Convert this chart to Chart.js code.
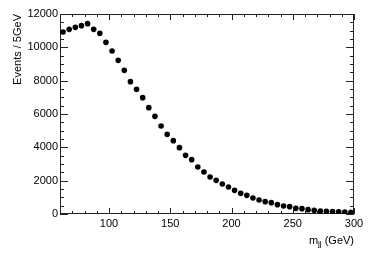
<!DOCTYPE html>
<html>
<head>
<meta charset="utf-8">
<script src="https://cdn.jsdelivr.net/npm/chart.js@4/dist/chart.umd.min.js"></script>
<style>
  html, body { margin: 0; padding: 0; background: #fff; }
  #wrap { width: 374px; height: 255px; }
</style>
</head>
<body>
<div id="wrap"><canvas id="graficoMjj" width="374" height="255"></canvas></div>
<script>
// bin centres (GeV) and events per 5 GeV bin
const centrosBins = [62.5, 67.5, 72.5, 77.5, 82.5, 87.5, 92.5, 97.5, 102.5, 107.5, 112.5, 117.5,
  122.5, 127.5, 132.5, 137.5, 142.5, 147.5, 152.5, 157.5, 162.5, 167.5, 172.5, 177.5,
  182.5, 187.5, 192.5, 197.5, 202.5, 207.5, 212.5, 217.5, 222.5, 227.5, 232.5, 237.5,
  242.5, 247.5, 252.5, 257.5, 262.5, 267.5, 272.5, 277.5, 282.5, 287.5, 292.5, 297.5]
const eventos = [10920, 11080, 11200, 11300, 11420, 11080, 10840, 10300, 9780, 9220, 8620, 7940,
  7480, 6980, 6380, 5860, 5280, 4780, 4400, 3980, 3520, 3260, 2820, 2520,
  2220, 2020, 1800, 1620, 1420, 1240, 1120, 960, 840, 740, 680, 560,
  480, 440, 340, 320, 260, 220, 180, 160, 140, 130, 120, 100]

const ticksX = [100, 150, 200, 250, 300]
const ticksY = [0, 2000, 4000, 6000, 8000, 10000, 12000]
const minorX = 10
const minorY = 500

const fonte = '"Liberation Sans", Arial, Helvetica, sans-serif'

const pontos = centrosBins.map((x, i) => ({ x: x, y: eventos[i] }))

// ROOT style frame with ticks pointing inwards on all four sides
const moldura = {
  id: 'moldura',
  beforeDatasetsDraw (chart) {
    const ctx = chart.ctx
    const a = chart.chartArea
    const sx = chart.scales.x
    const sy = chart.scales.y
    ctx.save()
    ctx.strokeStyle = '#222'
    ctx.lineWidth = 1
    ctx.strokeRect(Math.round(a.left) + 0.5, Math.round(a.top) + 0.5,
      Math.round(a.right - a.left) - 1, Math.round(a.bottom - a.top) - 1)
    ctx.beginPath()
    for (let v = sx.min; v <= sx.max; v += minorX) {
      const px = Math.round(sx.getPixelForValue(v)) + 0.5
      const len = ticksX.includes(v) ? 6 : 3
      ctx.moveTo(px, a.bottom); ctx.lineTo(px, a.bottom - len)
      ctx.moveTo(px, a.top); ctx.lineTo(px, a.top + len)
    }
    for (let v = sy.min; v <= sy.max; v += minorY) {
      const py = Math.round(sy.getPixelForValue(v)) + 0.5
      const len = ticksY.includes(v) ? 8 : 4
      ctx.moveTo(a.left, py); ctx.lineTo(a.left + len, py)
      ctx.moveTo(a.right, py); ctx.lineTo(a.right - len, py)
    }
    ctx.stroke()

    // x title with subscript: m_jj (GeV)
    ctx.fillStyle = '#000'
    ctx.textBaseline = 'alphabetic'
    ctx.textAlign = 'left'
    ctx.font = '11px ' + fonte
    const base = 244
    const resto = ' (GeV)'
    const wResto = ctx.measureText(resto).width
    ctx.font = '8px ' + fonte
    const wSub = ctx.measureText('jj').width
    ctx.font = '11px ' + fonte
    const wM = ctx.measureText('m').width
    let x0 = a.right - wResto - wSub - wM
    ctx.fillText('m', x0, base)
    ctx.font = '8px ' + fonte
    ctx.fillText('jj', x0 + wM, base + 2)
    ctx.font = '11px ' + fonte
    ctx.fillText(resto, x0 + wM + wSub, base)
    ctx.restore()
  }
}

const graficoMjj = new Chart(document.getElementById('graficoMjj'), {
  type: 'scatter',
  data: {
    datasets: [{
      label: 'Events',
      data: pontos,
      backgroundColor: '#000',
      borderColor: '#000',
      pointRadius: 2.8,
      pointHoverRadius: 2.8,
      borderWidth: 0
    }]
  },
  options: {
    responsive: false,
    animation: false,
    events: [],
    layout: { autoPadding: false, padding: { left: 0, right: 20, top: 14, bottom: 0 } },
    plugins: { legend: { display: false }, tooltip: { enabled: false } },
    scales: {
      x: {
        type: 'linear',
        min: 60,
        max: 300,
        grid: { display: false, drawTicks: false },
        border: { display: false },
        afterFit: (s) => { s.height = 41 },
        afterBuildTicks: (s) => { s.ticks = ticksX.map(v => ({ value: v })) },
        ticks: {
          color: '#000',
          padding: 3,
          maxRotation: 0,
          autoSkip: false,
          callback: (v) => String(v),
          font: { family: fonte, size: 11 }
        }
      },
      y: {
        min: 0,
        max: 12000,
        grid: { display: false, drawTicks: false },
        border: { display: false },
        afterFit: (s) => { s.width = 60 },
        afterBuildTicks: (s) => { s.ticks = ticksY.map(v => ({ value: v })) },
        ticks: {
          color: '#000',
          padding: 2,
          autoSkip: false,
          callback: (v) => String(v),
          font: { family: fonte, size: 11 }
        },
        title: {
          display: true,
          text: 'Events / 5GeV',
          align: 'end',
          color: '#000',
          padding: { top: 11, bottom: 0 },
          font: { family: fonte, size: 11 }
        }
      }
    }
  },
  plugins: [moldura]
})
</script>
</body>
</html>
